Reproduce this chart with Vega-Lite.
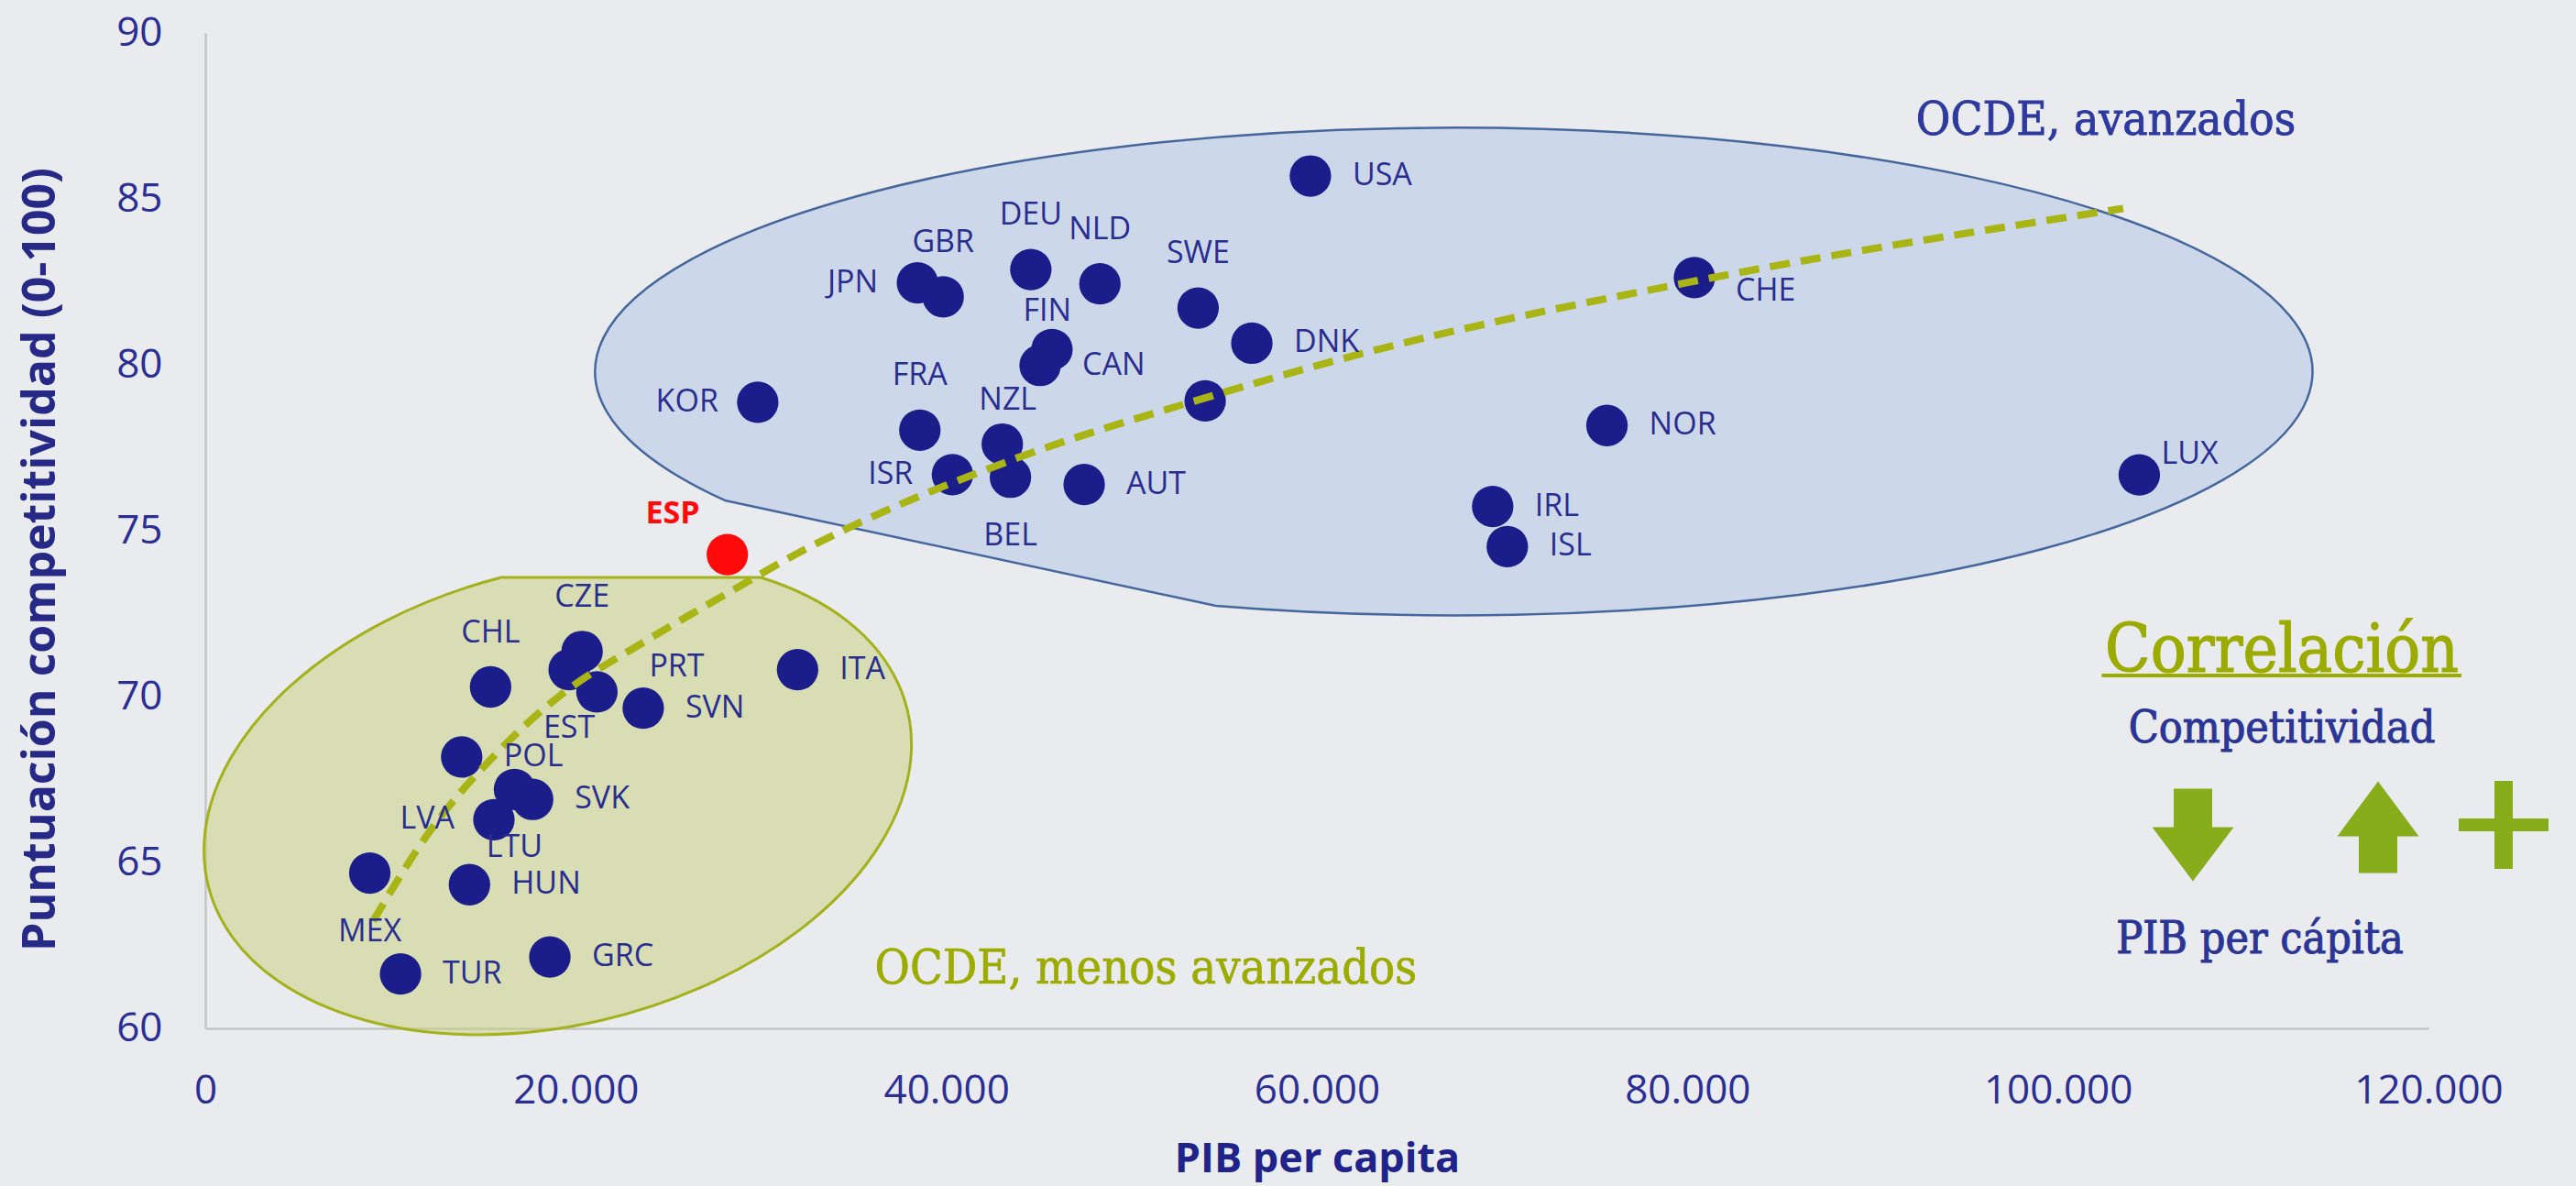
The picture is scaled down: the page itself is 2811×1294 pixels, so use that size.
{
  "$schema": "https://vega.github.io/schema/vega-lite/v6.json",
  "width": 2426,
  "height": 1086,
  "autosize": {"type": "none"},
  "padding": {"left": 224, "top": 36, "right": 161, "bottom": 172},
  "background": "#e9ebef",
  "config": {
    "view": {"stroke": null},
    "locale": {"number": {"decimal": ",", "thousands": ".", "grouping": [3], "currency": ["", " €"]}}
  },
  "datasets": {
    "paises": [
      {"pais": "USA", "grupo": "OCDE", "pib": 59650, "competitividad": 85.69},
      {"pais": "DEU", "grupo": "OCDE", "pib": 44560, "competitividad": 82.87},
      {"pais": "NLD", "grupo": "OCDE", "pib": 48290, "competitividad": 82.44},
      {"pais": "JPN", "grupo": "OCDE", "pib": 38440, "competitividad": 82.47},
      {"pais": "GBR", "grupo": "OCDE", "pib": 39830, "competitividad": 82.05},
      {"pais": "SWE", "grupo": "OCDE", "pib": 53590, "competitividad": 81.71},
      {"pais": "DNK", "grupo": "OCDE", "pib": 56490, "competitividad": 80.65},
      {"pais": "FIN", "grupo": "OCDE", "pib": 45700, "competitividad": 80.46},
      {"pais": "CAN", "grupo": "OCDE", "pib": 45060, "competitividad": 79.98},
      {"pais": "AUS", "grupo": "OCDE", "pib": 53970, "competitividad": 78.91},
      {"pais": "KOR", "grupo": "OCDE", "pib": 29820, "competitividad": 78.87},
      {"pais": "FRA", "grupo": "OCDE", "pib": 38570, "competitividad": 78.03},
      {"pais": "NZL", "grupo": "OCDE", "pib": 43020, "competitividad": 77.61},
      {"pais": "ISR", "grupo": "OCDE", "pib": 40330, "competitividad": 76.69},
      {"pais": "BEL", "grupo": "OCDE", "pib": 43460, "competitividad": 76.61},
      {"pais": "AUT", "grupo": "OCDE", "pib": 47440, "competitividad": 76.39},
      {"pais": "CHE", "grupo": "OCDE", "pib": 80380, "competitividad": 82.63},
      {"pais": "NOR", "grupo": "OCDE", "pib": 75660, "competitividad": 78.17},
      {"pais": "LUX", "grupo": "OCDE", "pib": 104390, "competitividad": 76.68},
      {"pais": "IRL", "grupo": "OCDE", "pib": 69490, "competitividad": 75.73},
      {"pais": "ISL", "grupo": "OCDE", "pib": 70280, "competitividad": 74.52},
      {"pais": "ESP", "grupo": "España", "pib": 28180, "competitividad": 74.28},
      {"pais": "CZE", "grupo": "OCDE", "pib": 20340, "competitividad": 71.36},
      {"pais": "EST", "grupo": "OCDE", "pib": 19640, "competitividad": 70.81},
      {"pais": "PRT", "grupo": "OCDE", "pib": 21140, "competitividad": 70.14},
      {"pais": "CHL", "grupo": "OCDE", "pib": 15400, "competitividad": 70.29},
      {"pais": "SVN", "grupo": "OCDE", "pib": 23640, "competitividad": 69.65},
      {"pais": "ITA", "grupo": "OCDE", "pib": 31970, "competitividad": 70.81},
      {"pais": "POL", "grupo": "OCDE", "pib": 13840, "competitividad": 68.18},
      {"pais": "LTU", "grupo": "OCDE", "pib": 16690, "competitividad": 67.2},
      {"pais": "SVK", "grupo": "OCDE", "pib": 17670, "competitividad": 66.9},
      {"pais": "LVA", "grupo": "OCDE", "pib": 15580, "competitividad": 66.29},
      {"pais": "MEX", "grupo": "OCDE", "pib": 8880, "competitividad": 64.68},
      {"pais": "HUN", "grupo": "OCDE", "pib": 14260, "competitividad": 64.33},
      {"pais": "TUR", "grupo": "OCDE", "pib": 10540, "competitividad": 61.64},
      {"pais": "GRC", "grupo": "OCDE", "pib": 18600, "competitividad": 62.15}
    ],
    "tendencia": [
      {"pib": 9054, "competitividad": 63.23},
      {"pib": 12004, "competitividad": 65.85},
      {"pib": 15652, "competitividad": 68.25},
      {"pib": 19122, "competitividad": 70.02},
      {"pib": 23636, "competitividad": 71.63},
      {"pib": 28151, "competitividad": 73.1},
      {"pib": 32319, "competitividad": 74.42},
      {"pib": 34398, "competitividad": 75.0},
      {"pib": 43867, "competitividad": 77.2},
      {"pib": 53970, "competitividad": 79.0},
      {"pib": 62177, "competitividad": 80.3},
      {"pib": 80378, "competitividad": 82.52},
      {"pib": 103524, "competitividad": 84.71}
    ],
    "regiones": [
      {"region": "avanzados", "pib": 67617, "competitividad": 79.78},
      {"region": "menos avanzados", "pib": 19044, "competitividad": 66.96}
    ],
    "textos": [
      {"texto": "OCDE, avanzados", "pib": 102588, "competitividad": 86.93},
      {"texto": "OCDE, menos avanzados", "pib": 50770, "competitividad": 61.36},
      {"texto": "Correlación", "pib": 112085, "competitividad": 70.75},
      {"texto": "Competitividad", "pib": 112085, "competitividad": 68.62},
      {"texto": "PIB per cápita", "pib": 110898, "competitividad": 62.27}
    ],
    "subrayado": [
      {"pib": 102366, "pib_fin": 121780, "competitividad": 70.635}
    ],
    "iconos": [
      {"icono": "baja", "pib": 107287, "competitividad": 65.84},
      {"icono": "sube", "pib": 117279, "competitividad": 66.08},
      {"icono": "mas", "pib": 124056, "competitividad": 66.13}
    ]
  },
  "layer": [
    {
      "data": {"name": "regiones"},
      "transform": [{"filter": "datum.region === 'avanzados'"}],
      "mark": {"type": "point", "shape": "M -0.8 0.14 L -0.264 0.255 A 0.937 0.266 0 1 0 -0.8 0.14 Z", "size": 4000000, "filled": true, "fill": "#bccbe6", "fillOpacity": 0.62, "stroke": "#46679c", "strokeWidth": 2.5, "opacity": 1},
      "encoding": {
        "x": {"field": "pib", "type": "quantitative", "scale": {"domain": [0, 120000], "nice": false, "zero": false},
          "axis": {"values": [0, 20000, 40000, 60000, 80000, 100000, 120000], "format": ",d", "grid": false, "ticks": false, "tickSize": 0, "domainColor": "#c4c4c4", "domainWidth": 2.5, "labelFont": "Open Sans", "labelFontSize": 44, "labelColor": "#2b2f93", "labelPadding": 46, "labelFlush": false, "labelOverlap": false,
            "title": "PIB per capita", "titleFont": "Open Sans", "titleFontSize": 45, "titleFontWeight": "bold", "titleColor": "#20248a", "titlePadding": 30}},
        "y": {"field": "competitividad", "type": "quantitative", "scale": {"domain": [60, 90], "nice": false, "zero": false},
          "axis": {"values": [60, 65, 70, 75, 80, 85, 90], "grid": false, "ticks": false, "tickSize": 0, "domainColor": "#c4c4c4", "domainWidth": 2.5, "labelFont": "Open Sans", "labelFontSize": 44, "labelColor": "#2b2f93", "labelPadding": 47, "labelFlush": false, "labelOverlap": false,
            "title": "Puntuación competitividad  (0-100)", "titleFont": "Open Sans", "titleFontSize": 50, "titleFontWeight": "bold", "titleColor": "#262a86", "titlePadding": 57, "titleY": 574}}
      }
    },
    {
      "data": {"name": "regiones"},
      "transform": [{"filter": "datum.region === 'menos avanzados'"}],
      "mark": {"type": "point", "shape": "M -0.062 -0.24 L 0.221 -0.24 A 0.3933 0.2477 -14.3 1 1 -0.062 -0.24 Z", "size": 4000000, "filled": true, "fill": "#c8d07a", "fillOpacity": 0.5, "stroke": "#a3b11c", "strokeWidth": 3, "opacity": 1},
      "encoding": {
        "x": {"field": "pib", "type": "quantitative"},
        "y": {"field": "competitividad", "type": "quantitative"}
      }
    },
    {
      "data": {"name": "paises"},
      "mark": {"type": "circle", "size": 2050, "opacity": 1},
      "encoding": {
        "x": {"field": "pib", "type": "quantitative"},
        "y": {"field": "competitividad", "type": "quantitative"},
        "color": {"field": "grupo", "type": "nominal", "scale": {"domain": ["OCDE", "España"], "range": ["#1b1d8b", "#ff0a0a"]}, "legend": null}
      }
    },
    {
      "data": {"name": "tendencia"},
      "mark": {"type": "line", "color": "#a8b514", "strokeWidth": 8, "strokeDash": [22, 12], "interpolate": "monotone"},
      "encoding": {
        "x": {"field": "pib", "type": "quantitative"},
        "y": {"field": "competitividad", "type": "quantitative"}
      }
    },
    {
      "data": {"name": "paises"},
      "transform": [{"filter": {"field": "pais", "oneOf": ["USA", "DNK", "CAN", "AUT", "NOR", "IRL", "ISL", "SVN", "ITA", "POL", "SVK", "HUN", "TUR", "GRC"]}}],
      "mark": {"type": "text", "align": "left", "baseline": "middle", "dx": 46, "font": "Open Sans", "fontSize": 34, "color": "#292d8f"},
      "encoding": {"x": {"field": "pib", "type": "quantitative"}, "y": {"field": "competitividad", "type": "quantitative"}, "text": {"field": "pais"}}
    },
    {
      "data": {"name": "paises"},
      "transform": [{"filter": {"field": "pais", "oneOf": ["JPN", "KOR", "ISR", "LVA"]}}],
      "mark": {"type": "text", "align": "right", "baseline": "middle", "dx": -43, "font": "Open Sans", "fontSize": 34, "color": "#292d8f"},
      "encoding": {"x": {"field": "pib", "type": "quantitative"}, "y": {"field": "competitividad", "type": "quantitative"}, "text": {"field": "pais"}}
    },
    {
      "data": {"name": "paises"},
      "transform": [{"filter": {"field": "pais", "oneOf": ["DEU", "NLD", "GBR", "SWE", "FRA", "CHL", "CZE"]}}],
      "mark": {"type": "text", "align": "center", "baseline": "middle", "dy": -59, "font": "Open Sans", "fontSize": 34, "color": "#292d8f"},
      "encoding": {"x": {"field": "pib", "type": "quantitative"}, "y": {"field": "competitividad", "type": "quantitative"}, "text": {"field": "pais"}}
    },
    {
      "data": {"name": "paises"},
      "transform": [{"filter": {"field": "pais", "oneOf": ["BEL", "EST", "LTU", "MEX"]}}],
      "mark": {"type": "text", "align": "center", "baseline": "middle", "dy": 64, "font": "Open Sans", "fontSize": 34, "color": "#292d8f"},
      "encoding": {"x": {"field": "pib", "type": "quantitative"}, "y": {"field": "competitividad", "type": "quantitative"}, "text": {"field": "pais"}}
    },
    {
      "data": {"name": "paises"},
      "transform": [{"filter": "datum.pais === 'FIN'"}],
      "mark": {"type": "text", "align": "center", "baseline": "middle", "dx": -5, "dy": -41, "font": "Open Sans", "fontSize": 34, "color": "#292d8f"},
      "encoding": {"x": {"field": "pib", "type": "quantitative"}, "y": {"field": "competitividad", "type": "quantitative"}, "text": {"field": "pais"}}
    },
    {
      "data": {"name": "paises"},
      "transform": [{"filter": "datum.pais === 'NZL'"}],
      "mark": {"type": "text", "align": "center", "baseline": "middle", "dx": 6, "dy": -48, "font": "Open Sans", "fontSize": 34, "color": "#292d8f"},
      "encoding": {"x": {"field": "pib", "type": "quantitative"}, "y": {"field": "competitividad", "type": "quantitative"}, "text": {"field": "pais"}}
    },
    {
      "data": {"name": "paises"},
      "transform": [{"filter": "datum.pais === 'CHE'"}],
      "mark": {"type": "text", "align": "left", "baseline": "middle", "dx": 45, "dy": 15, "font": "Open Sans", "fontSize": 34, "color": "#292d8f"},
      "encoding": {"x": {"field": "pib", "type": "quantitative"}, "y": {"field": "competitividad", "type": "quantitative"}, "text": {"field": "pais"}}
    },
    {
      "data": {"name": "paises"},
      "transform": [{"filter": "datum.pais === 'LUX'"}],
      "mark": {"type": "text", "align": "left", "baseline": "middle", "dx": 24, "dy": -22, "font": "Open Sans", "fontSize": 34, "color": "#292d8f"},
      "encoding": {"x": {"field": "pib", "type": "quantitative"}, "y": {"field": "competitividad", "type": "quantitative"}, "text": {"field": "pais"}}
    },
    {
      "data": {"name": "paises"},
      "transform": [{"filter": "datum.pais === 'PRT'"}],
      "mark": {"type": "text", "align": "left", "baseline": "middle", "dx": 57, "dy": -27, "font": "Open Sans", "fontSize": 34, "color": "#292d8f"},
      "encoding": {"x": {"field": "pib", "type": "quantitative"}, "y": {"field": "competitividad", "type": "quantitative"}, "text": {"field": "pais"}}
    },
    {
      "data": {"name": "paises"},
      "transform": [{"filter": "datum.pais === 'ESP'"}],
      "mark": {"type": "text", "align": "right", "baseline": "alphabetic", "dx": -30, "dy": -34, "font": "Open Sans", "fontSize": 34, "fontWeight": "bold", "color": "#ff0a0a"},
      "encoding": {"x": {"field": "pib", "type": "quantitative"}, "y": {"field": "competitividad", "type": "quantitative"}, "text": {"field": "pais"}}
    },
    {
      "data": {"name": "textos"},
      "transform": [{"filter": "datum.texto === 'OCDE, avanzados'"}],
      "mark": {"type": "text", "align": "center", "baseline": "alphabetic", "font": "DejaVu Serif Condensed, DejaVu Serif, serif", "fontSize": 51, "color": "#2e3a9e", "stroke": "#2e3a9e", "strokeWidth": 0.9},
      "encoding": {"x": {"field": "pib", "type": "quantitative"}, "y": {"field": "competitividad", "type": "quantitative"}, "text": {"field": "texto"}}
    },
    {
      "data": {"name": "textos"},
      "transform": [{"filter": "datum.texto === 'OCDE, menos avanzados'"}],
      "mark": {"type": "text", "align": "center", "baseline": "alphabetic", "font": "DejaVu Serif Condensed, DejaVu Serif, serif", "fontSize": 52, "color": "#9cab00", "stroke": "#9cab00", "strokeWidth": 0.7},
      "encoding": {"x": {"field": "pib", "type": "quantitative"}, "y": {"field": "competitividad", "type": "quantitative"}, "text": {"field": "texto"}}
    },
    {
      "data": {"name": "textos"},
      "transform": [{"filter": "datum.texto === 'Correlación'"}],
      "mark": {"type": "text", "align": "center", "baseline": "alphabetic", "font": "DejaVu Serif Condensed, DejaVu Serif, serif", "fontSize": 72, "color": "#9cab00", "stroke": "#9cab00", "strokeWidth": 1.2},
      "encoding": {"x": {"field": "pib", "type": "quantitative"}, "y": {"field": "competitividad", "type": "quantitative"}, "text": {"field": "texto"}}
    },
    {
      "data": {"name": "textos"},
      "transform": [{"filter": "datum.texto === 'Competitividad' || datum.texto === 'PIB per cápita'"}],
      "mark": {"type": "text", "align": "center", "baseline": "alphabetic", "font": "DejaVu Serif Condensed, DejaVu Serif, serif", "fontSize": 48, "color": "#2b3595", "stroke": "#2b3595", "strokeWidth": 1},
      "encoding": {"x": {"field": "pib", "type": "quantitative"}, "y": {"field": "competitividad", "type": "quantitative"}, "text": {"field": "texto"}}
    },
    {
      "data": {"name": "subrayado"},
      "mark": {"type": "rule", "color": "#9cab00", "strokeWidth": 4},
      "encoding": {"x": {"field": "pib", "type": "quantitative"}, "x2": {"field": "pib_fin"}, "y": {"field": "competitividad", "type": "quantitative"}}
    },
    {
      "data": {"name": "iconos"},
      "mark": {"type": "point", "size": 10000, "filled": true, "opacity": 1, "color": "#87ad1a"},
      "encoding": {
        "x": {"field": "pib", "type": "quantitative"},
        "y": {"field": "competitividad", "type": "quantitative"},
        "shape": {"field": "icono", "type": "nominal", "legend": null, "scale": {"domain": ["baja", "sube", "mas"], "range": [
          "M -0.42 -1 L 0.42 -1 L 0.42 -0.16 L 0.89 -0.16 L 0 1.02 L -0.89 -0.16 L -0.42 -0.16 Z",
          "M 0 -0.99 L 0.89 0.21 L 0.42 0.21 L 0.42 1.01 L -0.42 1.01 L -0.42 0.21 L -0.89 0.21 Z",
          "M -0.2 -0.96 L 0.2 -0.96 L 0.2 -0.14 L 0.98 -0.14 L 0.98 0.14 L 0.2 0.14 L 0.2 0.96 L -0.2 0.96 L -0.2 0.14 L -0.98 0.14 L -0.98 -0.14 L -0.2 -0.14 Z"
        ]}}
      }
    }
  ]
}
